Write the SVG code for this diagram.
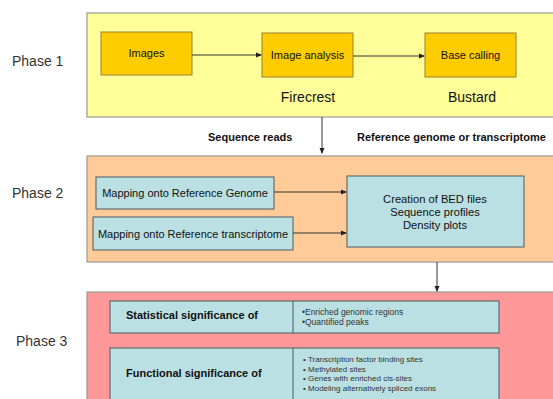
<svg xmlns="http://www.w3.org/2000/svg" width="553" height="399" viewBox="0 0 553 399">
<style>
text{font-family:"Liberation Sans",Arial,sans-serif;fill:#111}
.ph{font-size:14px;fill:#333}
.y{fill:#FFCC00;stroke:#9A8030;stroke-width:1}
.b{fill:#BBE0E3;stroke:#4A5A5C;stroke-width:1}
.pan{stroke:#999;stroke-width:1.2}
.c{stroke:#333;stroke-width:1;fill:none;marker-end:url(#ah)}
.bt{font-size:11px;font-weight:bold}
.sm{font-size:8.5px;fill:#333}
.sf{font-size:8px;fill:#333}
</style>
<defs>
<marker id="ah" viewBox="0 0 6 6" refX="5" refY="3" markerWidth="6" markerHeight="6" orient="auto" markerUnits="userSpaceOnUse">
<path d="M0,0.5 L6,3 L0,5.5 z" fill="#222"/>
</marker>
</defs>
<rect width="553" height="399" fill="#fff"/>
<g id="phase1">
<rect class="pan" x="87" y="13" width="470" height="104" fill="#FFFF99"/>
<text class="ph" x="12" y="66">Phase 1</text>
<text x="308" y="102" font-size="14" text-anchor="middle" fill="#222">Firecrest</text>
<text x="472" y="102" font-size="14" text-anchor="middle" fill="#222">Bustard</text>
</g>
<g id="phase2">
<rect class="pan" x="87" y="156" width="470" height="106" fill="#FFCC99"/>
<text class="ph" x="12" y="198">Phase 2</text>
</g>
<g id="phase3">
<rect class="pan" x="87" y="292" width="470" height="112" fill="#FF9999"/>
<text class="ph" x="16" y="346">Phase 3</text>
</g>
<g id="images">
<rect class="y" x="101" y="32" width="91" height="43"/>
<text x="146.5" y="57" font-size="11" text-anchor="middle">Images</text>
</g>
<g id="image-analysis">
<rect class="y" x="262" y="33" width="91" height="44"/>
<text x="307.5" y="59" font-size="11" text-anchor="middle">Image analysis</text>
</g>
<g id="base-calling">
<rect class="y" x="425" y="33" width="91" height="44"/>
<text x="470.5" y="59" font-size="11" text-anchor="middle">Base calling</text>
</g>
<g id="labels">
<text class="bt" x="208" y="141">Sequence reads</text>
<text class="bt" x="357" y="141">Reference genome or transcriptome</text>
</g>
<g id="map-genome">
<rect class="b" x="96" y="177" width="178" height="32"/>
<text x="185" y="197" font-size="11" text-anchor="middle">Mapping onto Reference Genome</text>
</g>
<g id="map-transcriptome">
<rect class="b" x="93" y="217" width="200" height="33"/>
<text x="193" y="238" font-size="11" text-anchor="middle">Mapping onto Reference transcriptome</text>
</g>
<g id="creation">
<rect class="b" x="347" y="176" width="177" height="71"/>
<text x="435" y="203" font-size="11.2" text-anchor="middle">Creation of BED files</text>
<text x="435" y="216" font-size="11.2" text-anchor="middle">Sequence profiles</text>
<text x="435" y="229" font-size="11.2" text-anchor="middle">Density plots</text>
</g>
<g id="statistical">
<rect class="b" x="110" y="301" width="389" height="32"/>
<line x1="293" y1="301" x2="293" y2="333" stroke="#4A5A5C"/>
<text class="bt" x="126" y="319">Statistical significance of</text>
<text class="sm" x="302" y="315">•Enriched genomic regions</text>
<text class="sm" x="302" y="324.5">•Quantified peaks</text>
</g>
<g id="functional">
<rect class="b" x="110" y="348" width="389" height="60"/>
<line x1="293" y1="348" x2="293" y2="408" stroke="#4A5A5C"/>
<text class="bt" x="126" y="377">Functional significance of</text>
<text class="sf" x="303" y="362">• Transcription factor binding sites</text>
<text class="sf" x="303" y="371.5">• Methylated sites</text>
<text class="sf" x="303" y="381">• Genes with enriched cis-sites</text>
<text class="sf" x="303" y="390.5">• Modeling alternatively spliced exons</text>
</g>
<g id="connectors">
<line class="c" x1="192" y1="55" x2="261" y2="55"/>
<line class="c" x1="353" y1="56" x2="424" y2="56"/>
<line class="c" x1="322" y1="117" x2="322" y2="153"/>
<line class="c" x1="274" y1="192" x2="346" y2="192"/>
<line class="c" x1="293" y1="233" x2="346" y2="233"/>
<line class="c" x1="437" y1="262" x2="437" y2="291"/>
</g>
</svg>
